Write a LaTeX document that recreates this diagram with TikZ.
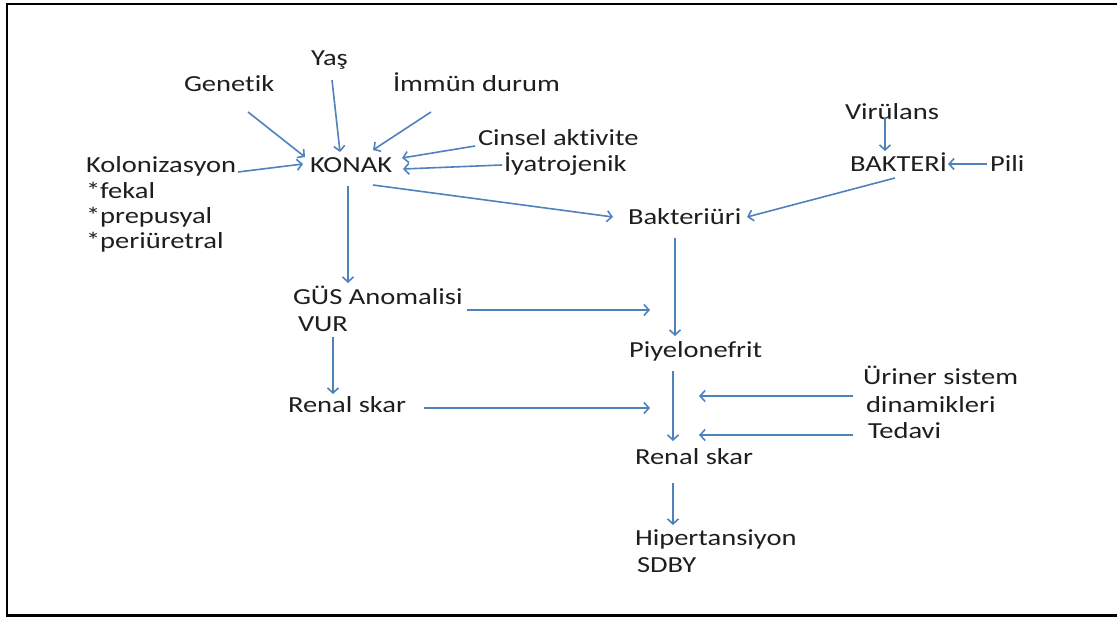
\documentclass[tikz,border=0pt]{standalone}
\usepackage{fontspec}
\setmainfont{Carlito}[FakeStretch=1.24,Ligatures=NoCommon]
\usetikzlibrary{arrows.meta}
\definecolor{arrblue}{RGB}{79,129,189}
\definecolor{txt}{RGB}{30,30,30}
\begin{document}
\begin{tikzpicture}[x=1pt,y=-1pt,
  lbl/.style={anchor=base west,inner sep=0pt,outer sep=0pt,text=txt,font=\fontsize{23}{25}\selectfont},
  arr/.style={draw=arrblue,line width=1.6pt,-{Straight Barb[length=5pt,width=11pt,line width=1.6pt]}}]
\useasboundingbox (0,0) rectangle (1117,617);
\draw[line width=2.6pt] (1117,4) -- (7,4) -- (7,615.5) -- (1117,615.5);
% nodes
\node[lbl] (gen) at (184,92) {Genetik};
\node[lbl] (yas) at (311,66) {Yaş};
\node[lbl] (imm) at (393,92) {İmmün durum};
\node[lbl] (cins) at (478,146) {Cinsel aktivite};
\node[lbl] (iyat) at (504,172) {İyatrojenik};
\node[lbl] (konak) at (310,173) {KONAK};
\node[lbl] (kol) at (86,173) {Kolonizasyon};
\node[lbl] (fek) at (86,199) {*fekal};
\node[lbl] (pre) at (86,224) {*prepusyal};
\node[lbl] (per) at (86,249) {*periüretral};
\node[lbl] (bakur) at (628,225) {Bakteriüri};
\node[lbl] (vir) at (845,120) {Virülans};
\node[lbl] (bak) at (850,172) {BAKTERİ};
\node[lbl] (pili) at (990,172) {Pili};
\node[lbl] (gus) at (293,305) {GÜS Anomalisi};
\node[lbl] (vur) at (298,332) {VUR};
\node[lbl] (rsl) at (288,413) {Renal skar};
\node[lbl] (piy) at (629,358) {Piyelonefrit};
\node[lbl] (uri) at (863,385) {Üriner sistem};
\node[lbl] (din) at (866,413) {dinamikleri};
\node[lbl] (ted) at (868,439) {Tedavi};
\node[lbl] (rsr) at (635,465) {Renal skar};
\node[lbl] (hip) at (635,545) {Hipertansiyon};
\node[lbl] (sdby) at (637,572) {SDBY};
% free ends
\coordinate (g1) at (650,310);
\coordinate (r1) at (650,408);
\coordinate (u1) at (699,396);
\coordinate (t1) at (699,435);
% connectors
\draw[arr] ([shift={(64,20)}]gen.base west) -- ([shift={(-5,-16)}]konak.base west);
\draw[arr] ([shift={(21,14)}]yas.base west) -- ([shift={(30,-21)}]konak.base west);
\draw[arr] ([shift={(38,20)}]imm.base west) -- ([shift={(63,-23)}]konak.base west);
\draw[arr] ([shift={(-3,0)}]cins.base west) -- ([shift={(92,-15)}]konak.base west);
\draw[arr] ([shift={(-2,-7)}]iyat.base west) -- ([shift={(93,-4)}]konak.base west);
\draw[arr] ([shift={(152,-1)}]kol.base west) -- ([shift={(-7,-9)}]konak.base west);
\draw[arr] ([shift={(63,12)}]konak.base west) -- ([shift={(-15,-8)}]bakur.base west);
\draw[arr] ([shift={(38,13)}]konak.base west) -- ([shift={(55,-22)}]gus.base west);
\draw[arr] ([shift={(40,-2)}]vir.base west) -- ([shift={(35,-21)}]bak.base west);
\draw[arr] ([shift={(-3,-8)}]pili.base west) -- ([shift={(98,-8)}]bak.base west);
\draw[arr] ([shift={(45,6)}]bak.base west) -- ([shift={(119,-8)}]bakur.base west);
\draw[arr] ([shift={(47,13)}]bakur.base west) -- ([shift={(46,-22)}]piy.base west);
\draw[arr] ([shift={(174,5)}]gus.base west) -- (g1);
\draw[arr] ([shift={(35,5)}]vur.base west) -- ([shift={(45,-19)}]rsl.base west);
\draw[arr] ([shift={(136,-5)}]rsl.base west) -- (r1);
\draw[arr] ([shift={(44,13)}]piy.base west) -- ([shift={(38,-24)}]rsr.base west);
\draw[arr] ([shift={(-10,11)}]uri.base west) -- (u1);
\draw[arr] ([shift={(-15,-4)}]ted.base west) -- (t1);
\draw[arr] ([shift={(38,18)}]rsr.base west) -- ([shift={(38,-20)}]hip.base west);
\end{tikzpicture}
\end{document}
